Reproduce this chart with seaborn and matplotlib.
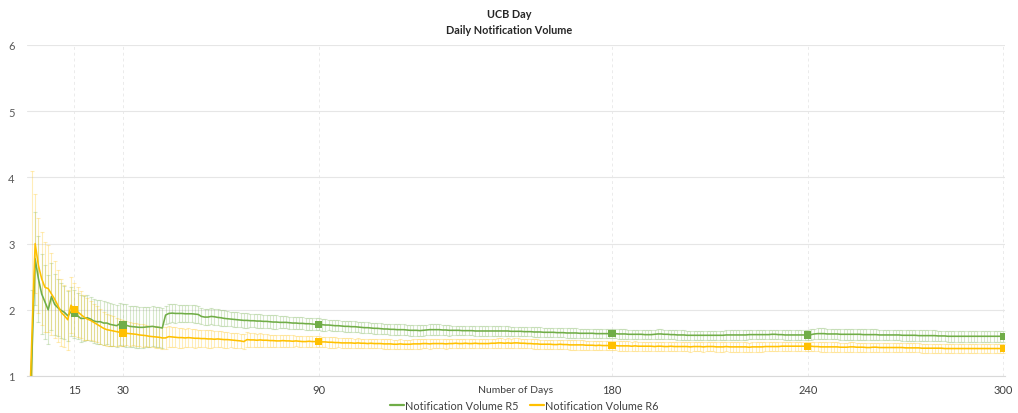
import numpy as np
import pandas as pd
import matplotlib
matplotlib.use("Agg")
import matplotlib.pyplot as plt
import seaborn as sns

# ---------------- data ----------------
days = list(range(1, 301))

r5_values = [
    0.10, 1.30, 2.77, 2.47, 2.24, 2.12, 2.00, 2.20, 2.08, 2.03,
    1.99, 1.96, 1.91, 1.97, 1.94, 1.91, 1.87, 1.87, 1.88, 1.86,
    1.83, 1.82, 1.82, 1.80, 1.80, 1.78, 1.77, 1.76, 1.79, 1.77,
    1.765, 1.75, 1.745, 1.74, 1.735, 1.735, 1.74, 1.745, 1.75, 1.74,
    1.735, 1.725, 1.92, 1.945, 1.95, 1.945, 1.945, 1.945, 1.94, 1.94,
    1.94, 1.935, 1.93, 1.90, 1.89, 1.89, 1.90, 1.895, 1.885, 1.88,
    1.87, 1.865, 1.86, 1.855, 1.85, 1.845, 1.84, 1.84, 1.835, 1.835,
    1.83, 1.83, 1.825, 1.825, 1.82, 1.815, 1.815, 1.81, 1.81, 1.81,
    1.805, 1.80, 1.80, 1.795, 1.795, 1.79, 1.79, 1.785, 1.78, 1.78,
    1.775, 1.77, 1.77, 1.765, 1.76, 1.76, 1.755, 1.75, 1.75, 1.745,
    1.745, 1.74, 1.735, 1.73, 1.73, 1.725, 1.72, 1.72, 1.715, 1.71,
    1.71, 1.705, 1.705, 1.70, 1.70, 1.70, 1.695, 1.69, 1.69, 1.69,
    1.685, 1.69, 1.695, 1.70, 1.70, 1.70, 1.70, 1.695, 1.695, 1.69,
    1.69, 1.69, 1.69, 1.685, 1.685, 1.685, 1.685, 1.68, 1.68, 1.68,
    1.68, 1.68, 1.68, 1.68, 1.68, 1.68, 1.68, 1.68, 1.675, 1.675,
    1.675, 1.675, 1.67, 1.67, 1.67, 1.665, 1.665, 1.665, 1.66, 1.66,
    1.66, 1.66, 1.655, 1.655, 1.655, 1.65, 1.65, 1.65, 1.65, 1.645,
    1.645, 1.645, 1.645, 1.645, 1.64, 1.64, 1.64, 1.64, 1.64, 1.64,
    1.64, 1.635, 1.635, 1.635, 1.63, 1.63, 1.63, 1.63, 1.63, 1.625,
    1.625, 1.625, 1.63, 1.635, 1.635, 1.63, 1.63, 1.625, 1.625, 1.62,
    1.62, 1.62, 1.615, 1.615, 1.615, 1.615, 1.615, 1.615, 1.615, 1.615,
    1.615, 1.615, 1.615, 1.615, 1.62, 1.62, 1.62, 1.62, 1.62, 1.62,
    1.62, 1.625, 1.625, 1.625, 1.625, 1.625, 1.625, 1.625, 1.63, 1.63,
    1.625, 1.625, 1.62, 1.62, 1.62, 1.62, 1.62, 1.62, 1.62, 1.62,
    1.625, 1.635, 1.64, 1.64, 1.64, 1.635, 1.635, 1.635, 1.635, 1.63,
    1.63, 1.63, 1.63, 1.63, 1.63, 1.63, 1.625, 1.625, 1.625, 1.625,
    1.625, 1.62, 1.62, 1.62, 1.62, 1.62, 1.62, 1.62, 1.615, 1.615,
    1.615, 1.615, 1.615, 1.61, 1.61, 1.61, 1.61, 1.61, 1.61, 1.605,
    1.605, 1.605, 1.60, 1.60, 1.60, 1.60, 1.60, 1.60, 1.60, 1.60,
    1.60, 1.60, 1.60, 1.60, 1.60, 1.60, 1.60, 1.60, 1.60, 1.60,
]

r6_values = [
    0.10, 1.60, 3.00, 2.67, 2.47, 2.34, 2.32, 2.24, 2.16, 2.06,
    1.96, 1.91, 1.85, 2.07, 2.00, 1.97, 1.93, 1.89, 1.86, 1.84,
    1.81, 1.78, 1.75, 1.72, 1.70, 1.69, 1.68, 1.67, 1.66, 1.65,
    1.645, 1.64, 1.635, 1.63, 1.62, 1.615, 1.61, 1.60, 1.595, 1.59,
    1.585, 1.575, 1.575, 1.595, 1.59, 1.585, 1.58, 1.58, 1.575, 1.58,
    1.575, 1.57, 1.57, 1.565, 1.565, 1.56, 1.56, 1.555, 1.56, 1.555,
    1.55, 1.55, 1.545, 1.54, 1.535, 1.53, 1.52, 1.55, 1.545, 1.545,
    1.54, 1.545, 1.54, 1.54, 1.535, 1.535, 1.53, 1.53, 1.535, 1.53,
    1.53, 1.525, 1.53, 1.525, 1.52, 1.52, 1.525, 1.52, 1.52, 1.52,
    1.515, 1.515, 1.51, 1.51, 1.505, 1.505, 1.50, 1.50, 1.50, 1.50,
    1.495, 1.50, 1.495, 1.495, 1.49, 1.495, 1.49, 1.49, 1.49, 1.485,
    1.485, 1.485, 1.48, 1.48, 1.485, 1.48, 1.48, 1.48, 1.485, 1.485,
    1.485, 1.49, 1.49, 1.485, 1.49, 1.49, 1.49, 1.49, 1.485, 1.49,
    1.49, 1.495, 1.49, 1.49, 1.495, 1.49, 1.49, 1.495, 1.49, 1.49,
    1.49, 1.49, 1.495, 1.495, 1.50, 1.50, 1.495, 1.50, 1.495, 1.50,
    1.50, 1.495, 1.495, 1.49, 1.49, 1.485, 1.485, 1.48, 1.48, 1.48,
    1.48, 1.475, 1.475, 1.48, 1.475, 1.475, 1.47, 1.47, 1.47, 1.47,
    1.47, 1.465, 1.465, 1.465, 1.46, 1.465, 1.46, 1.46, 1.46, 1.46,
    1.46, 1.455, 1.455, 1.455, 1.455, 1.45, 1.455, 1.45, 1.45, 1.45,
    1.45, 1.45, 1.445, 1.45, 1.45, 1.445, 1.445, 1.45, 1.445, 1.445,
    1.445, 1.445, 1.445, 1.44, 1.445, 1.445, 1.445, 1.44, 1.445, 1.445,
    1.445, 1.44, 1.44, 1.44, 1.445, 1.44, 1.44, 1.44, 1.44, 1.44,
    1.44, 1.435, 1.44, 1.44, 1.44, 1.44, 1.445, 1.445, 1.445, 1.445,
    1.445, 1.45, 1.45, 1.45, 1.45, 1.45, 1.45, 1.45, 1.45, 1.45,
    1.45, 1.445, 1.445, 1.44, 1.44, 1.44, 1.44, 1.44, 1.44, 1.435,
    1.435, 1.435, 1.44, 1.44, 1.435, 1.435, 1.435, 1.43, 1.43, 1.435,
    1.435, 1.43, 1.43, 1.43, 1.43, 1.43, 1.43, 1.43, 1.43, 1.425,
    1.425, 1.425, 1.425, 1.425, 1.42, 1.42, 1.42, 1.42, 1.42, 1.42,
    1.42, 1.415, 1.415, 1.415, 1.415, 1.415, 1.415, 1.415, 1.415, 1.415,
    1.415, 1.415, 1.415, 1.415, 1.415, 1.415, 1.415, 1.415, 1.415, 1.415,
]

r5_errors = [
    0.00, 1.00, 0.70, 0.65, 0.60, 0.56, 0.52, 0.50, 0.46, 0.43,
    0.41, 0.40, 0.38, 0.37, 0.36, 0.35, 0.35, 0.34, 0.34, 0.33,
    0.33, 0.33, 0.33, 0.33, 0.32, 0.32, 0.32, 0.32, 0.32, 0.32,
    0.32, 0.31, 0.31, 0.31, 0.31, 0.31, 0.30, 0.30, 0.30, 0.30,
    0.30, 0.30, 0.14, 0.14, 0.14, 0.14, 0.13, 0.13, 0.13, 0.13,
    0.13, 0.13, 0.13, 0.12, 0.12, 0.12, 0.12, 0.12, 0.12, 0.12,
    0.12, 0.11, 0.11, 0.11, 0.11, 0.11, 0.11, 0.11, 0.10, 0.10,
    0.10, 0.10, 0.10, 0.10, 0.10, 0.10, 0.10, 0.09, 0.09, 0.09,
    0.09, 0.09, 0.09, 0.09, 0.09, 0.09, 0.09, 0.09, 0.09, 0.09,
    0.09, 0.09, 0.08, 0.08, 0.08, 0.08, 0.08, 0.08, 0.08, 0.08,
    0.08, 0.08, 0.08, 0.08, 0.08, 0.08, 0.08, 0.08, 0.08, 0.08,
    0.08, 0.08, 0.08, 0.08, 0.08, 0.08, 0.08, 0.08, 0.08, 0.08,
    0.08, 0.08, 0.08, 0.08, 0.08, 0.08, 0.08, 0.08, 0.08, 0.08,
    0.07, 0.07, 0.07, 0.07, 0.07, 0.07, 0.07, 0.07, 0.07, 0.07,
    0.07, 0.07, 0.07, 0.07, 0.07, 0.07, 0.07, 0.07, 0.07, 0.07,
    0.07, 0.07, 0.07, 0.07, 0.07, 0.07, 0.07, 0.07, 0.07, 0.07,
    0.07, 0.07, 0.07, 0.07, 0.07, 0.07, 0.07, 0.07, 0.07, 0.07,
    0.07, 0.07, 0.07, 0.07, 0.07, 0.07, 0.07, 0.07, 0.07, 0.07,
    0.07, 0.07, 0.07, 0.07, 0.07, 0.07, 0.07, 0.07, 0.07, 0.07,
    0.07, 0.07, 0.07, 0.07, 0.07, 0.07, 0.07, 0.07, 0.07, 0.07,
    0.07, 0.07, 0.07, 0.07, 0.07, 0.07, 0.07, 0.07, 0.07, 0.07,
    0.07, 0.07, 0.07, 0.07, 0.07, 0.07, 0.07, 0.07, 0.07, 0.07,
    0.07, 0.07, 0.07, 0.07, 0.07, 0.07, 0.07, 0.07, 0.07, 0.07,
    0.07, 0.07, 0.07, 0.07, 0.07, 0.07, 0.07, 0.07, 0.07, 0.07,
    0.08, 0.08, 0.08, 0.08, 0.08, 0.08, 0.08, 0.08, 0.08, 0.08,
    0.08, 0.08, 0.08, 0.08, 0.08, 0.08, 0.08, 0.08, 0.08, 0.08,
    0.08, 0.08, 0.08, 0.08, 0.08, 0.08, 0.08, 0.08, 0.08, 0.08,
    0.08, 0.08, 0.08, 0.08, 0.08, 0.08, 0.08, 0.08, 0.08, 0.08,
    0.08, 0.08, 0.08, 0.08, 0.08, 0.08, 0.08, 0.08, 0.08, 0.08,
    0.08, 0.08, 0.08, 0.08, 0.08, 0.08, 0.08, 0.08, 0.08, 0.08,
]

r6_errors = [
    0.00, 2.50, 0.75, 0.72, 0.70, 0.68, 0.66, 0.62, 0.58, 0.54,
    0.50, 0.47, 0.45, 0.42, 0.40, 0.38, 0.36, 0.34, 0.32, 0.30,
    0.28, 0.27, 0.26, 0.25, 0.24, 0.23, 0.22, 0.21, 0.20, 0.19,
    0.18, 0.18, 0.17, 0.17, 0.17, 0.17, 0.16, 0.16, 0.16, 0.16,
    0.16, 0.16, 0.16, 0.16, 0.15, 0.15, 0.15, 0.15, 0.14, 0.14,
    0.14, 0.14, 0.13, 0.13, 0.13, 0.13, 0.13, 0.12, 0.12, 0.12,
    0.12, 0.12, 0.11, 0.11, 0.11, 0.11, 0.11, 0.11, 0.10, 0.10,
    0.10, 0.10, 0.10, 0.10, 0.09, 0.09, 0.09, 0.09, 0.09, 0.09,
    0.09, 0.09, 0.08, 0.08, 0.08, 0.08, 0.08, 0.08, 0.08, 0.08,
    0.08, 0.08, 0.08, 0.08, 0.08, 0.07, 0.07, 0.07, 0.07, 0.07,
    0.07, 0.07, 0.07, 0.07, 0.07, 0.07, 0.07, 0.07, 0.07, 0.07,
    0.07, 0.07, 0.07, 0.07, 0.07, 0.07, 0.07, 0.07, 0.07, 0.07,
    0.07, 0.07, 0.07, 0.07, 0.07, 0.07, 0.07, 0.07, 0.07, 0.07,
    0.07, 0.07, 0.07, 0.07, 0.07, 0.07, 0.07, 0.07, 0.07, 0.07,
    0.07, 0.07, 0.07, 0.07, 0.07, 0.07, 0.07, 0.07, 0.07, 0.07,
    0.07, 0.07, 0.07, 0.07, 0.07, 0.07, 0.07, 0.07, 0.07, 0.07,
    0.07, 0.07, 0.07, 0.07, 0.07, 0.07, 0.07, 0.07, 0.07, 0.07,
    0.07, 0.07, 0.07, 0.07, 0.07, 0.07, 0.07, 0.07, 0.07, 0.07,
    0.07, 0.07, 0.07, 0.07, 0.07, 0.07, 0.07, 0.07, 0.07, 0.07,
    0.07, 0.07, 0.07, 0.07, 0.07, 0.07, 0.07, 0.07, 0.07, 0.07,
    0.07, 0.07, 0.07, 0.07, 0.07, 0.07, 0.07, 0.07, 0.07, 0.07,
    0.07, 0.07, 0.07, 0.07, 0.07, 0.07, 0.07, 0.07, 0.07, 0.07,
    0.07, 0.07, 0.07, 0.07, 0.07, 0.07, 0.07, 0.07, 0.07, 0.07,
    0.07, 0.07, 0.07, 0.07, 0.07, 0.07, 0.07, 0.07, 0.07, 0.07,
    0.07, 0.07, 0.07, 0.07, 0.07, 0.07, 0.07, 0.07, 0.07, 0.07,
    0.07, 0.07, 0.07, 0.07, 0.07, 0.07, 0.07, 0.07, 0.07, 0.07,
    0.07, 0.07, 0.07, 0.07, 0.07, 0.07, 0.07, 0.07, 0.07, 0.07,
    0.07, 0.07, 0.07, 0.07, 0.07, 0.07, 0.07, 0.07, 0.07, 0.07,
    0.07, 0.07, 0.07, 0.07, 0.07, 0.07, 0.07, 0.07, 0.07, 0.07,
    0.07, 0.07, 0.07, 0.07, 0.07, 0.07, 0.07, 0.07, 0.07, 0.07,
]

marker_days = [15, 30, 90, 180, 240, 300]
x_ticks = [15, 30, 90, 180, 240, 300]
y_ticks = [1, 2, 3, 4, 5, 6]
series_names = ["Notification Volume R5", "Notification Volume R6"]
title_text = "UCB Day\nDaily Notification Volume"
x_label = "Number of Days"

# ---------------- style ----------------
sns.set_theme(style="white")
plt.rcParams["font.family"] = ["Lato", "DejaVu Sans"]

GREEN = "#70AD47"
YELLOW = "#FFC000"
GRAY_TXT = "#595959"

df = pd.DataFrame({
    "day": days * 2,
    "value": r5_values + r6_values,
    "err": r5_errors + r6_errors,
    "series": [series_names[0]] * len(days) + [series_names[1]] * len(days),
})

fig = plt.figure(figsize=(10.18, 4.14), dpi=100)
ax = fig.add_axes([27 / 1018, 1 - 377 / 414, (1005 - 27) / 1018, (377 - 46) / 414])

colors = {series_names[0]: GREEN, series_names[1]: YELLOW}

# error bars first
for name in series_names:
    sub = df[df["series"] == name]
    ax.errorbar(sub["day"], sub["value"], yerr=sub["err"], fmt="none",
                ecolor=colors[name], alpha=0.28, elinewidth=0.8,
                capsize=1.6, capthick=0.8, zorder=2)

# lines
sns.lineplot(data=df, x="day", y="value", hue="series", palette=colors,
             linewidth=1.15, ax=ax, legend=False, zorder=3, estimator=None,
             sort=True)

# square markers on selected days
mk = df[df["day"].isin(marker_days)]
sns.scatterplot(data=mk, x="day", y="value", hue="series", palette=colors,
                marker="s", s=28, linewidth=0, ax=ax, legend=False, zorder=4)

ax.set_xlim(0.5, 300.5)
ax.set_ylim(1, 6)
ax.set_xticks(x_ticks)
ax.set_yticks(y_ticks)
ax.set_xticklabels([str(t) for t in x_ticks])
ax.set_yticklabels([str(t) for t in y_ticks])

for s in ["top", "right", "left"]:
    ax.spines[s].set_visible(False)
ax.spines["bottom"].set_color("#d9d9d9")
ax.spines["bottom"].set_linewidth(0.8)

ax.yaxis.grid(True, color="#e6e6e6", linewidth=0.8)
ax.xaxis.grid(True, color="#ebebeb", linewidth=0.7, linestyle=(0, (3, 3)))
ax.set_axisbelow(True)

ax.tick_params(axis="y", length=0, pad=9, labelsize=8, labelcolor=GRAY_TXT)
ax.tick_params(axis="x", direction="inout", length=5, width=0.8,
               color="#bfbfbf", pad=3, labelsize=8, labelcolor="#404040")

ax.set_xlabel(x_label, fontsize=7.5, color="#404040")
ax.xaxis.set_label_coords(0.5, -0.04)
ax.xaxis.label.set_verticalalignment("center")
ax.set_ylabel("")

fig.text(0.5, 0.945, title_text, ha="center", va="center", fontsize=7.8,
         fontweight="bold", color="#262626", linespacing=1.6)

handles = [plt.Line2D([], [], color=GREEN, lw=1.6),
           plt.Line2D([], [], color=YELLOW, lw=1.6)]
fig.legend(handles, series_names, loc="center", bbox_to_anchor=(0.515, 0.018),
           ncol=2, frameon=False, fontsize=7.8, handlelength=1.3,
           handletextpad=0.1, columnspacing=1.1, labelcolor="#404040")

fig.savefig("out.png", dpi=100, facecolor="white")
